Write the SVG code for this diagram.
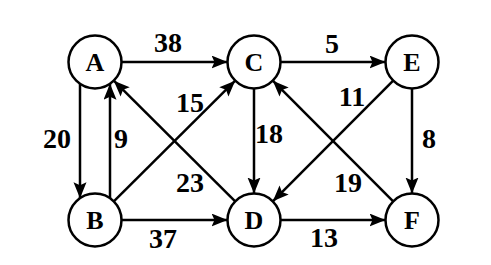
<svg xmlns="http://www.w3.org/2000/svg" width="491" height="265" viewBox="0 0 491 265">
<style>
.node circle{fill:#fff;stroke:#000;stroke-width:2.5}
.edges line{stroke:#000;stroke-width:2.5;marker-end:url(#arr)}
</style>
<defs>
<marker id="arr" markerUnits="userSpaceOnUse" markerWidth="17" markerHeight="14" refX="16" refY="6.5" orient="auto">
<path d="M0,0 L16,6.5 L0,13 L3,6.5 z" fill="#000"/>
</marker>
</defs>
<rect width="491" height="265" fill="#fff"/>
<g class="edges" id="connectors">
<line x1="121.5" y1="62" x2="227.5" y2="62"/>
<line x1="280.5" y1="62" x2="385.5" y2="62"/>
<line x1="121.5" y1="220" x2="227.5" y2="220"/>
<line x1="280.5" y1="220" x2="385.5" y2="220"/>
<line x1="80" y1="83.8" x2="80" y2="198.2"/>
<line x1="110" y1="198.2" x2="110" y2="83.8"/>
<line x1="254" y1="88.5" x2="254" y2="193.5"/>
<line x1="412" y1="88.5" x2="412" y2="193.5"/>
<line x1="235.2" y1="201.3" x2="113.8" y2="80.7"/>
<line x1="113.8" y1="201.3" x2="235.2" y2="80.7"/>
<line x1="393.2" y1="80.7" x2="272.8" y2="201.3"/>
<line x1="393.2" y1="201.3" x2="272.8" y2="80.7"/>
</g>
<g id="labels" font-family="'Liberation Serif', 'Times New Roman', serif" font-weight="bold" font-size="28" text-anchor="middle">
<text x="168" y="52">38</text>
<text x="332" y="53">5</text>
<text x="190" y="112">15</text>
<text x="352" y="106">11</text>
<text x="57" y="148">20</text>
<text x="121" y="148">9</text>
<text x="269" y="143">18</text>
<text x="429" y="148">8</text>
<text x="190" y="192">23</text>
<text x="348" y="192">19</text>
<text x="163" y="248">37</text>
<text x="324" y="247">13</text>
</g>
<g font-family="'Liberation Serif', 'Times New Roman', serif" font-weight="bold" font-size="26" text-anchor="middle">
<g class="node" id="A"><circle cx="95" cy="62" r="26.5"/><text x="95" y="70.5">A</text></g>
<g class="node" id="C"><circle cx="254" cy="62" r="26.5"/><text x="254" y="70.5">C</text></g>
<g class="node" id="E"><circle cx="412" cy="62" r="26.5"/><text x="412" y="70.5">E</text></g>
<g class="node" id="B"><circle cx="95" cy="220" r="26.5"/><text x="95" y="228.5">B</text></g>
<g class="node" id="D"><circle cx="254" cy="220" r="26.5"/><text x="254" y="228.5">D</text></g>
<g class="node" id="F"><circle cx="412" cy="220" r="26.5"/><text x="412" y="228.5">F</text></g>
</g>
</svg>
